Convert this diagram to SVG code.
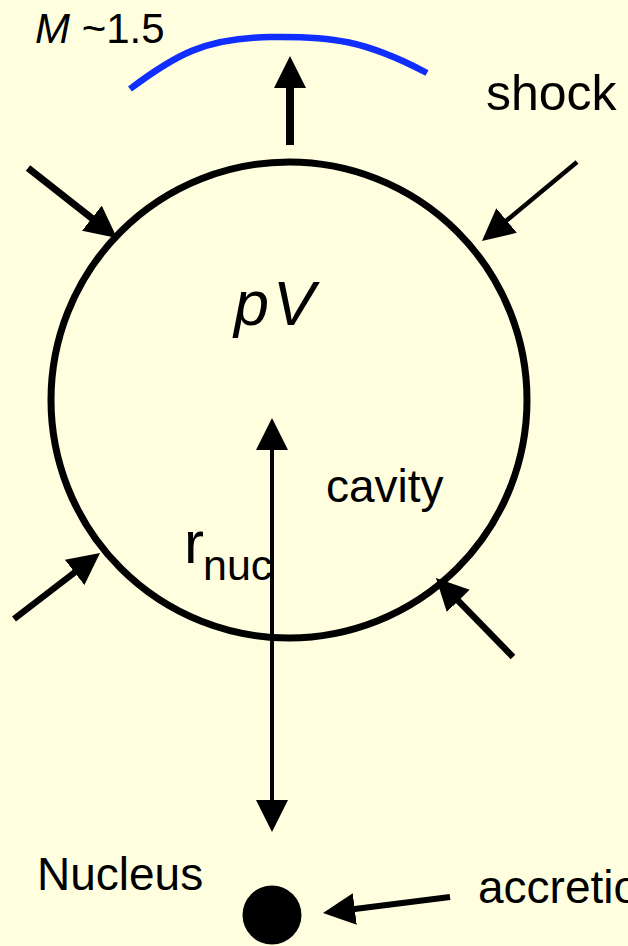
<svg xmlns="http://www.w3.org/2000/svg" width="628" height="946" viewBox="0 0 628 946">
<style>
text{font-family:"Liberation Sans",Arial,sans-serif;fill:#000}
.conn{stroke:#000;fill:none;marker-end:url(#ah)}
</style>
<defs>
<marker id="ah" viewBox="0 0 32 32" markerWidth="32" markerHeight="32" markerUnits="userSpaceOnUse" refX="4" refY="16" orient="auto-start-reverse">
<path d="M0,0 L32,16 L0,32 Z" fill="#000"/>
</marker>
</defs>
<rect width="628" height="946" fill="#FFFFE0"/>
<g id="cavity">
<circle cx="289" cy="400" r="238" fill="none" stroke="#000" stroke-width="7"/>
<text x="234" y="325" font-size="63" font-style="italic" letter-spacing="4">pV</text>
<text x="326" y="502" font-size="46">cavity</text>
<text x="184" y="563" font-size="60">r</text>
<text x="203" y="580" font-size="43">nuc</text>
</g>
<g id="shock">
<path d="M130,89 C175,55 205,38 270,37 C330,36 365,40 427,73" fill="none" stroke="#0F2EFF" stroke-width="6.5"/>
<text x="35" y="43" font-size="42"><tspan font-style="italic">M</tspan> ~1.5</text>
<text x="486" y="110" font-size="50">shock</text>
</g>
<g id="nucleus">
<circle cx="272" cy="915" r="29.5" fill="#000"/>
<text x="37" y="890" font-size="46">Nucleus</text>
</g>
<g id="accretion">
<text x="478" y="903" font-size="46">accretion</text>
</g>
<g id="connectors">
<line class="conn" x1="28" y1="168" x2="95" y2="220.7" stroke-width="7"/>
<line class="conn" x1="577" y1="162" x2="503.5" y2="223.1" stroke-width="4.5"/>
<line class="conn" x1="14" y1="619" x2="77.8" y2="570" stroke-width="6.5"/>
<line class="conn" x1="513" y1="657" x2="455.5" y2="598" stroke-width="6.5"/>
<line class="conn" x1="290" y1="145" x2="290" y2="84" stroke-width="8"/>
<line class="conn" x1="272" y1="446" x2="272" y2="804" stroke-width="4" style="marker-start:url(#ah)"/>
<line class="conn" x1="450" y1="897" x2="350.8" y2="909.5" stroke-width="6"/>
</g>
</svg>
